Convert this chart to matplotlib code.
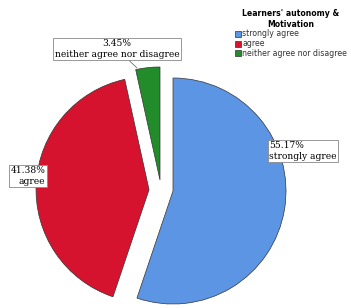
import matplotlib.pyplot as plt
from matplotlib.patches import Patch

# data
categories = ['strongly agree', 'agree', 'neither agree nor disagree']
percents = [55.17, 41.38, 3.45]
colors = ['#5B95E3', '#D5132F', '#228B2A']
explode = [0, 24, 14]

fig = plt.figure(figsize=(3.51, 3.08), dpi=100)
ax = fig.add_axes([0, 0, 1, 1])

wedges, _ = ax.pie(percents, colors=colors, explode=explode, startangle=90,
                   counterclock=False, center=(173, 117), radius=113,
                   wedgeprops=dict(edgecolor='#333333', linewidth=0.5))
# green slice is pulled out up-left, not along its middle
wedges[2].set_center((160, 128))

ax.set_xlim(0, 351)
ax.set_ylim(0, 308)
ax.set_aspect('equal')
ax.axis('off')

box = dict(boxstyle='square,pad=0.15', facecolor='white', edgecolor='#888888', linewidth=0.6)
lab_font = dict(family='DejaVu Serif', fontsize=6.6)

ax.text(303, 157, f'{percents[0]:.2f}%\n{categories[0]}', ha='center', va='center',
        multialignment='left', bbox=box, **lab_font)
ax.text(28, 132, f'{percents[1]:.2f}%\n{categories[1]}', ha='center', va='center',
        multialignment='right', bbox=box, **lab_font)
ax.annotate(f'{percents[2]:.2f}%\n{categories[2]}', xy=(137, 240), xytext=(117, 259),
            ha='center', va='center', multialignment='center', bbox=box,
            arrowprops=dict(arrowstyle='-', color='#555555', lw=0.5,
                            shrinkA=0, shrinkB=0), **lab_font)

handles = [Patch(facecolor=c, edgecolor='#333333', linewidth=0.5) for c in colors]
leg = fig.legend(handles, categories, title="Learners' autonomy &\nMotivation",
                 loc='upper left', bbox_to_anchor=(0.655, 0.985), frameon=False,
                 fontsize=5.6, title_fontsize=5.6, handlelength=0.8, handleheight=0.8,
                 handletextpad=0.2, labelspacing=0.1, borderpad=0.1)
leg.get_title().set_fontweight('bold')
leg.get_title().set_multialignment('center')
for t in leg.get_texts():
    t.set_color('#333333')

fig.savefig('out.png', dpi=100, facecolor='white')
